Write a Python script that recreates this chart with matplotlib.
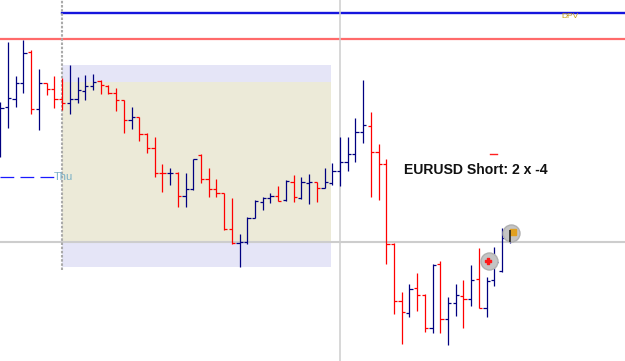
import matplotlib
matplotlib.use("Agg")
import matplotlib.pyplot as plt
from matplotlib.patches import Rectangle

# ---- OHLC data (EURUSD bars) ----
opens = [1.3460, 1.3493, 1.35015, 1.3517, 1.3548, 1.34915, 1.35167, 1.35115, 1.3501, 1.3497,
         1.35007, 1.35095, 1.35145, 1.35187, 1.35145, 1.3507, 1.34997, 1.3480, 1.34827, 1.3466,
         1.34517, 1.34273, 1.34267, 1.34273, 1.3404, 1.34107, 1.3445, 1.3421, 1.34107, 1.34067,
         1.33707, 1.33573, 1.33583, 1.33823, 1.33983, 1.34023, 1.3404, 1.3400, 1.34183, 1.34023,
         1.34167, 1.34177, 1.34117, 1.34173, 1.34293, 1.34377, 1.3446, 1.34677, 1.3474, 1.34483,
         1.34357, 1.33557, 1.32993, 1.32873, 1.33117, 1.3305, 1.32717, 1.33357, 1.32807, 1.32973,
         1.33043, 1.33007, 1.33207, 1.32917, 1.3320, 1.3329, 1.3360]
highs = [1.3498, 1.3558, 1.3524, 1.3560, 1.3550, 1.3531, 1.35173, 1.3524, 1.35223, 1.3535,
         1.35233, 1.3525, 1.35257, 1.35205, 1.35155, 1.3512, 1.35005, 1.34933, 1.34833, 1.34673,
         1.34627, 1.3436, 1.34317, 1.34283, 1.34267, 1.3441, 1.34457, 1.34317, 1.34207, 1.34073,
         1.34017, 1.3366, 1.33833, 1.3400, 1.34033, 1.34067, 1.3414, 1.3420, 1.34247, 1.34227,
         1.3426, 1.34183, 1.34317, 1.34373, 1.34627, 1.34633, 1.34817, 1.3520, 1.34877, 1.3456,
         1.34407, 1.33567, 1.33083, 1.3316, 1.33273, 1.3306, 1.33357, 1.3339, 1.33033, 1.3316,
         1.3320, 1.33347, 1.33517, 1.33227, 1.33527, 1.33717, 1.33683]
lows = [1.3443, 1.3472, 1.34935, 1.35067, 1.34857, 1.34703, 1.3505, 1.34923, 1.34897, 1.3486,
        1.3497, 1.35005, 1.3510, 1.35065, 1.35057, 1.3489, 1.34667, 1.3471, 1.34593, 1.34467,
        1.34227, 1.34083, 1.3415, 1.33927, 1.33933, 1.3410, 1.34167, 1.34033, 1.34033, 1.3370,
        1.3356, 1.33327, 1.3356, 1.33817, 1.3390, 1.33967, 1.3399, 1.33993, 1.33983, 1.34007,
        1.3396, 1.33983, 1.34117, 1.3415, 1.3414, 1.3429, 1.34383, 1.34567, 1.34033, 1.3400,
        1.33357, 1.3286, 1.32557, 1.32833, 1.32893, 1.32683, 1.32667, 1.32673, 1.3255, 1.32843,
        1.32723, 1.32943, 1.32917, 1.32833, 1.33143, 1.33283, 1.33567]
closes = [1.3492, 1.3502, 1.3517, 1.35467, 1.34915, 1.35175, 1.3511, 1.35015, 1.3497, 1.3501,
          1.3510, 1.35145, 1.35183, 1.3515, 1.35067, 1.3500, 1.3480, 1.34827, 1.3466, 1.34517,
          1.34273, 1.34267, 1.34273, 1.3404, 1.34107, 1.34407, 1.3421, 1.34107, 1.34067, 1.33707,
          1.33573, 1.33583, 1.33823, 1.3399, 1.34023, 1.3404, 1.33993, 1.3419, 1.34033, 1.34183,
          1.34183, 1.34117, 1.34177, 1.34293, 1.34377, 1.3446, 1.34677, 1.34755, 1.34483, 1.34357,
          1.33557, 1.32995, 1.32883, 1.33107, 1.3305, 1.32717, 1.3335, 1.32807, 1.32973, 1.3305,
          1.33007, 1.3320, 1.32917, 1.3319, 1.3338, 1.3362, 1.3364]

# ---- levels / annotations ----
dpv_level = 1.35867
red_level = 1.35613
cross_price = 1.33583
cross_bar = 44
session_start_bar = 8
box_end = 42.9
box_outer = (1.3333, 1.3535)
box_inner = (1.33583, 1.35183)
thu_level = 1.34233
label_text = "EURUSD Short: 2 x -4"
trade_marks = [(63.3, 1.3339), (66.15, 1.3367)]

UP = "#000080"
DOWN = "#ff0000"

fig = plt.figure(figsize=(6.25, 3.61), dpi=100)
ax = fig.add_axes([0, 0, 1, 1])
ax.set_xlim(-0.039, 80.92)
ax.set_ylim(1.3239, 1.3600)
ax.axis("off")

# box
ax.add_patch(Rectangle((session_start_bar, box_outer[0]), box_end - session_start_bar,
                       box_outer[1] - box_outer[0], facecolor="#e5e5f7", edgecolor="none", zorder=0))
ax.add_patch(Rectangle((session_start_bar, box_inner[0]), box_end - session_start_bar,
                       box_inner[1] - box_inner[0], facecolor="#ecead8", edgecolor="none", zorder=0.5))

# horizontal / vertical lines
ax.axhline(red_level, color="#ff6a6a", lw=1.6, zorder=1)
ax.plot([session_start_bar, 81], [dpv_level, dpv_level], color="#1515dd", lw=1.7, zorder=1)
ax.axhline(cross_price, color="#cdcdcd", lw=1.5, zorder=1)
ax.axvline(cross_bar - 0.02, color="#cdcdcd", lw=1.1, zorder=1)
ax.plot([session_start_bar, session_start_bar], [1.3330, 1.3600], color="#aaaaaa",
        lw=1.5, ls=(0, (1.2, 0.8)), zorder=1)
ax.plot([-0.1, 6.9], [thu_level, thu_level], color="#1a1aff", lw=0.9,
        ls=(0, (11, 5)), zorder=1)
ax.text(6.9, thu_level, "Thu", color="#7ab0c6", fontsize=8, va="center", ha="left",
        family=["Liberation Sans", "DejaVu Sans"], zorder=2)
ax.text(72.7, dpv_level - 0.00035, "DPV", color="#c8a010", fontsize=6, va="center",
        ha="left", family=["Liberation Sans", "DejaVu Sans"], zorder=2)

# OHLC bars
tick = 0.42
for i, (o, h, l, c) in enumerate(zip(opens, highs, lows, closes)):
    col = UP if c >= o else DOWN
    ax.vlines(i, l, h, color=col, lw=0.9, zorder=3)
    ax.hlines(o, i - tick, i, color=col, lw=0.9, zorder=3)
    ax.hlines(c, i, i + tick, color=col, lw=0.9, zorder=3)

# label
ax.text(52.3, 1.34297, label_text, fontsize=10.1, fontweight="bold", color="#111111",
        va="center", ha="left", family=["Liberation Sans", "DejaVu Sans"], zorder=4)
ax.plot([63.4, 64.3], [1.3446, 1.3446], color="#ff2020", lw=1.0, zorder=4)

# trade markers
for (tx, ty) in trade_marks:
    ax.scatter([tx], [ty], s=150, facecolor="#c4c4c4", edgecolor="#b0b0b0", lw=1, zorder=5)
ax.scatter([trade_marks[0][0] - 0.1], [trade_marks[0][1]], s=18, marker="P", color="#ff1a1a", zorder=6)
ax.scatter([trade_marks[1][0] + 0.2], [trade_marks[1][1] + 0.0001], s=14, marker="s", color="#e0a020", zorder=6)
ax.vlines(trade_marks[1][0] - 0.15, trade_marks[1][1] - 0.0009, trade_marks[1][1] + 0.0003,
          color="#222222", lw=1.2, zorder=6)

fig.savefig("out.png", dpi=100)
